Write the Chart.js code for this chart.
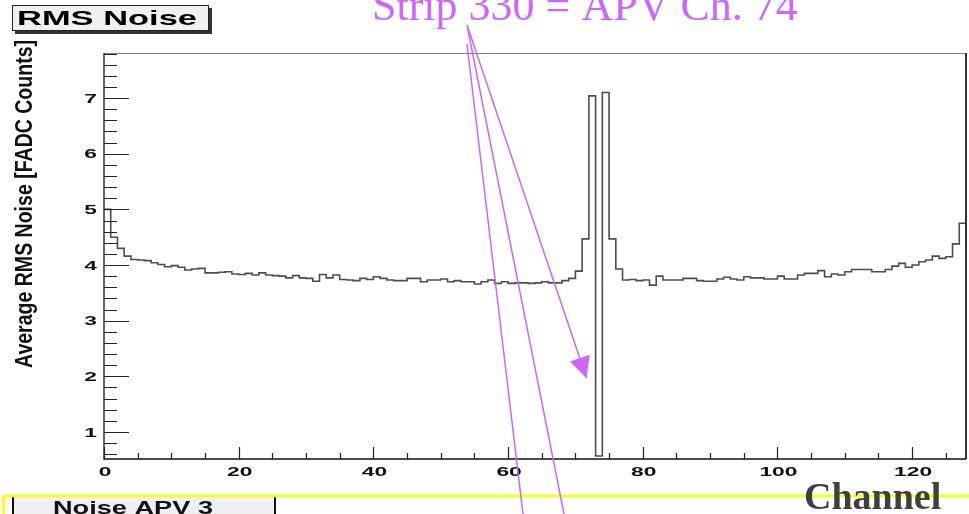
<!DOCTYPE html>
<html>
<head>
<meta charset="utf-8">
<script src="https://cdn.jsdelivr.net/npm/chart.js@4.4.1/dist/chart.umd.min.js"></script>
<style>
  html, body { margin: 0; padding: 0; background: #fff; overflow: hidden; }
  canvas { display: block; }
</style>
</head>
<body>
<canvas id="c" width="969" height="514"></canvas>
<script>
// Channel numbers (left edge of each histogram bin) for one APV25 chip
const channels = Array.from({ length: 128 }, (_, i) => i);

// Average RMS noise per channel [FADC counts]
const noise = [
  5.00, 4.50, 4.30, 4.16, 4.10, 4.09, 4.08, 4.04, 4.01, 3.97,
  3.99, 3.96, 3.91, 3.93, 3.94, 3.86, 3.86, 3.87, 3.88, 3.84,
  3.83, 3.85, 3.82, 3.86, 3.82, 3.81, 3.80, 3.77, 3.81, 3.77,
  3.76, 3.71, 3.83, 3.77, 3.82, 3.74, 3.73, 3.72, 3.76, 3.74,
  3.79, 3.76, 3.73, 3.72, 3.72, 3.76, 3.76, 3.70, 3.73, 3.73,
  3.75, 3.70, 3.72, 3.70, 3.70, 3.66, 3.70, 3.73, 3.67, 3.70,
  3.67, 3.68, 3.68, 3.67, 3.68, 3.70, 3.68, 3.68, 3.72, 3.76,
  3.89, 4.47, 7.04, 0.57, 7.10, 4.47, 3.93, 3.73, 3.74, 3.72,
  3.73, 3.64, 3.80, 3.73, 3.73, 3.73, 3.76, 3.76, 3.72, 3.71,
  3.71, 3.75, 3.78, 3.75, 3.73, 3.79, 3.77, 3.77, 3.75, 3.75,
  3.80, 3.75, 3.75, 3.82, 3.85, 3.85, 3.90, 3.79, 3.84, 3.82,
  3.88, 3.92, 3.92, 3.92, 3.88, 3.88, 3.92, 3.98, 4.03, 3.96,
  4.00, 4.06, 4.09, 4.16, 4.12, 4.15, 4.38, 4.75
];

// Axis tick labels
const xTickLabels = [0, 20, 40, 60, 80, 100, 120];
const yTickLabels = [1, 2, 3, 4, 5, 6, 7];

// Text
const histTitle = 'RMS Noise';
const yTitle = 'Average RMS Noise [FADC Counts]';
const xTitle = 'Channel';
const padLabel = 'Noise APV 3';
const note = 'Strip 330 = APV Ch. 74';

// Histogram outline: one point per bin edge, the last bin closed at x = 128
const histPoints = channels.map((c, i) => ({ x: c, y: noise[i] }));
histPoints.push({ x: channels.length, y: noise[noise.length - 1] });

const SANS = '"Liberation Sans", Arial, sans-serif';
const SERIF = '"Liberation Serif", "Times New Roman", serif';
const NOTE_COLOR = '#cc66ff';

// Draw text squeezed/stretched horizontally by sx
function wideText(ctx, text, x, y, font, sx, align) {
  ctx.save();
  ctx.font = font;
  const w = ctx.measureText(text).width * sx;
  let left = x;
  if (align === 'center') left = x - w / 2;
  else if (align === 'right') left = x - w;
  ctx.translate(left, y);
  ctx.scale(sx, 1);
  ctx.textAlign = 'left';
  ctx.textBaseline = 'alphabetic';
  ctx.fillText(text, 0, 0);
  ctx.restore();
}
// Draw text fitted to a given width
function fitText(ctx, text, x, y, font, width) {
  ctx.save();
  ctx.font = font;
  const sx = width / ctx.measureText(text).width;
  ctx.restore();
  wideText(ctx, text, x, y, font, sx, 'left');
}

const rootAxes = {
  id: 'rootAxes',
  afterDatasetsDraw(chart) {
    const ctx = chart.ctx;
    const xs = chart.scales.x, ys = chart.scales.y;
    const { left, right, top, bottom } = chart.chartArea;
    ctx.save();
    // frame
    ctx.lineWidth = 1;
    ctx.strokeStyle = '#808080';
    ctx.beginPath();
    ctx.moveTo(left, top + 0.5); ctx.lineTo(right, top + 0.5);
    ctx.stroke();
    ctx.strokeStyle = '#333';
    ctx.lineWidth = 2;
    ctx.beginPath();
    ctx.moveTo(right, top); ctx.lineTo(right, bottom);
    ctx.stroke();
    // axis lines
    ctx.strokeStyle = '#111';
    ctx.lineWidth = 1.3;
    ctx.beginPath();
    ctx.moveTo(left, top); ctx.lineTo(left, bottom);
    ctx.lineTo(right, bottom);
    ctx.stroke();

    // x ticks: major every 20, minor every 5, drawn inward
    ctx.lineWidth = 1.2;
    ctx.strokeStyle = '#222';
    ctx.beginPath();
    for (let v = 0; v <= xs.max; v += 5) {
      const px = Math.round(xs.getPixelForValue(v)) + 0.5;
      const len = v % 20 === 0 ? 12 : 6;
      ctx.moveTo(px, bottom); ctx.lineTo(px, bottom - len);
    }
    // y ticks: major every 1, minor every 0.2
    for (let k = 0; k * 0.2 <= ys.max; k++) {
      const v = k * 0.2;
      if (v < ys.min) continue;
      const py = Math.round(ys.getPixelForValue(v)) + 0.5;
      const len = k % 5 === 0 ? 25 : 13;
      ctx.moveTo(left, py); ctx.lineTo(left + len, py);
    }
    ctx.stroke();

    // tick labels
    ctx.fillStyle = '#111';
    const tickFont = 'bold 12px ' + SANS;
    xTickLabels.forEach(v => {
      wideText(ctx, String(v), xs.getPixelForValue(v) + 1, bottom + 16.5, tickFont, 1.9, 'center');
    });
    yTickLabels.forEach(v => {
      wideText(ctx, String(v), left - 7, ys.getPixelForValue(v) + 4.5, tickFont, 1.9, 'right');
    });
    ctx.restore();
  },
  afterDraw(chart) {
    const ctx = chart.ctx;
    const xs = chart.scales.x, ys = chart.scales.y;
    ctx.save();

    // histogram title pave with shadow
    ctx.fillStyle = '#333';
    ctx.fillRect(15, 8, 197, 26);
    ctx.fillStyle = '#f0f0f0';
    ctx.fillRect(12, 5, 197, 26);
    ctx.strokeStyle = '#222';
    ctx.lineWidth = 1;
    ctx.strokeRect(12.5, 5.5, 196, 25);
    ctx.fillStyle = '#000';
    fitText(ctx, histTitle, 17, 24.5, 'bold 21px ' + SANS, 180);

    // y axis title
    ctx.save();
    ctx.translate(32, 204);
    ctx.rotate(-Math.PI / 2);
    ctx.font = 'bold 23px ' + SANS;
    const tw = ctx.measureText(yTitle).width;
    ctx.scale(328 / tw, 1);
    ctx.textAlign = 'center';
    ctx.fillStyle = '#111';
    ctx.fillText(yTitle, 0, 0);
    ctx.restore();

    // lower pave
    ctx.fillStyle = '#efefef';
    ctx.fillRect(13, 497, 262, 17);
    ctx.strokeStyle = '#111';
    ctx.lineWidth = 2;
    ctx.beginPath();
    ctx.moveTo(13, 497); ctx.lineTo(13, 514);
    ctx.moveTo(275, 497); ctx.lineTo(275, 514);
    ctx.stroke();
    ctx.fillStyle = '#111';
    fitText(ctx, padLabel, 53, 514, 'bold 19px ' + SANS, 160);

    // yellow frame line
    ctx.strokeStyle = '#ffff00';
    ctx.lineWidth = 2.5;
    ctx.beginPath();
    ctx.moveTo(3.5, 514); ctx.lineTo(3.5, 496); ctx.lineTo(969, 496);
    ctx.stroke();

    // x axis title
    ctx.fillStyle = '#404040';
    ctx.font = 'bold 38px ' + SERIF;
    ctx.textAlign = 'left';
    ctx.textBaseline = 'alphabetic';
    ctx.fillText(xTitle, 804, 509);

    // note and pointer lines
    ctx.fillStyle = NOTE_COLOR;
    ctx.font = '44px ' + SERIF;
    ctx.fillText(note, 372, 20);

    ctx.strokeStyle = NOTE_COLOR;
    ctx.lineWidth = 1.5;
    const tipX = xs.getPixelForValue(71.65);
    const tipY = ys.getPixelForValue(1.97);
    ctx.beginPath();
    ctx.moveTo(467, 44); ctx.lineTo(523, 514);
    ctx.moveTo(467, 25); ctx.lineTo(564, 514);
    ctx.moveTo(467, 25); ctx.lineTo(tipX, tipY);
    ctx.stroke();
    // arrow head
    const ang = Math.atan2(tipY - 25, tipX - 467);
    const hl = 21, hw = 10.5;
    const bx = tipX - hl * Math.cos(ang), by = tipY - hl * Math.sin(ang);
    ctx.fillStyle = NOTE_COLOR;
    ctx.beginPath();
    ctx.moveTo(tipX, tipY);
    ctx.lineTo(bx + hw * Math.sin(ang), by - hw * Math.cos(ang));
    ctx.lineTo(bx - hw * Math.sin(ang), by + hw * Math.cos(ang));
    ctx.closePath();
    ctx.fill();

    ctx.restore();
  }
};

new Chart(document.getElementById('c'), {
  type: 'line',
  data: {
    datasets: [{
      data: histPoints,
      stepped: 'before',
      borderColor: '#4d4d4d',
      borderWidth: 1.6,
      pointRadius: 0,
      fill: false,
      tension: 0
    }]
  },
  options: {
    responsive: false,
    animation: false,
    events: [],
    layout: { padding: { left: 104, right: 3, top: 53, bottom: 55 } },
    scales: {
      x: { type: 'linear', min: 0, max: 128, display: false },
      y: { type: 'linear', min: 0.515, max: 7.81, display: false }
    },
    plugins: { legend: { display: false }, tooltip: { enabled: false } }
  },
  plugins: [rootAxes]
});
</script>
</body>
</html>
